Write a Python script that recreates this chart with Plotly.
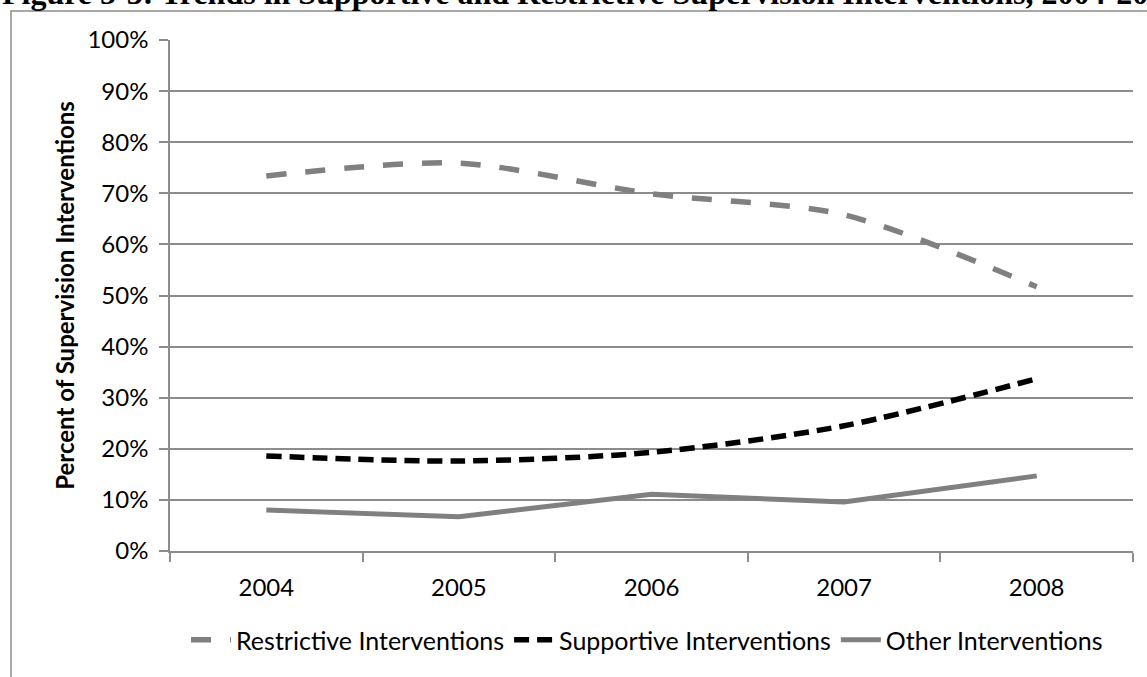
"""
Trends in supportive and restrictive supervision interventions, 2004-2008.
"""

import plotly.graph_objects as go

# --- Data ---
years = ["2004", "2005", "2006", "2007", "2008"]
restrictive = [0.734, 0.759, 0.699, 0.658, 0.517]
supportive = [0.186, 0.176, 0.193, 0.245, 0.337]
other = [0.080, 0.067, 0.111, 0.096, 0.147]
y_ticks = [i / 10 for i in range(11)]

GRID = "#8c8c8c"
GRAY = "#808080"
FONT = "Lato, Calibri, sans-serif"

# --- Layout geometry (pixels) ---
W, H = 1147, 677
L, R, T, B = 170, 14, 40, 126
PW, PH = W - L - R, H - T - B


def px_x(px):
    return (px - L) / PW


def px_y(py):
    return (H - B - py) / PH


fig = go.Figure()
fig.add_trace(go.Scatter(
    x=years, y=restrictive, name="Restrictive Interventions", mode="lines",
    line=dict(color=GRAY, width=5.5, dash="20px,19px", shape="spline", smoothing=0.8),
))
fig.add_trace(go.Scatter(
    x=years, y=supportive, name="Supportive Interventions", mode="lines",
    line=dict(color="black", width=5.5, dash="15px,8px", shape="spline", smoothing=0.8),
))
fig.add_trace(go.Scatter(
    x=years, y=other, name="Other Interventions", mode="lines",
    line=dict(color=GRAY, width=5),
))

fig.update_layout(
    width=W, height=H,
    margin=dict(l=L, r=R, t=T, b=B, autoexpand=False),
    paper_bgcolor="white", plot_bgcolor="white",
    font=dict(family=FONT, size=24, color="black"),
    showlegend=True,
    legend=dict(
        orientation="h", x=px_x(186), xanchor="left", y=px_y(640), yanchor="middle",
        font=dict(size=25), itemwidth=40, tracegroupgap=0, bgcolor="rgba(0,0,0,0)",
    ),
)

fig.update_xaxes(
    type="category", range=[-0.5, 4.5],
    showline=True, linecolor=GRID, linewidth=1.5,
    showgrid=False, ticks="outside", tickson="boundaries",
    ticklen=9, tickcolor=GRID, tickwidth=1.5, ticklabelstandoff=14,
)
fig.update_yaxes(
    range=[0, 1], tickvals=y_ticks, tickformat=".0%",
    showline=True, linecolor=GRID, linewidth=1.5,
    showgrid=True, gridcolor=GRID, gridwidth=1.5, zeroline=False,
    ticks="outside", ticklen=9, tickcolor=GRID, tickwidth=1.5, ticklabelstandoff=6,
    title=dict(text="<b>Percent of Supervision Interventions</b>", standoff=6,
               font=dict(size=24)),
)

# chart frame, cropped by the page edge on the right and bottom
fig.add_shape(
    type="rect", xref="paper", yref="paper",
    x0=px_x(11), x1=px_x(1400), y0=px_y(900), y1=px_y(11),
    line=dict(color=GRID, width=1.5), fillcolor="rgba(0,0,0,0)", layer="below",
)

# figure caption, partially cut off at the top of the page
fig.add_annotation(
    text="<b>Figure 5-3: Trends in Supportive and Restrictive Supervision Interventions, 2004-2008</b>",
    xref="paper", yref="paper", x=px_x(0), y=px_y(13), xanchor="left", yanchor="bottom",
    showarrow=False, font=dict(family="Liberation Serif, Times New Roman, serif", size=32),
)

# drop the default page margin so the figure sits at the window's corner
fig.write_html(
    "out.html",
    config={"displayModeBar": False},
    post_script="document.body.style.margin = '0';",
)
